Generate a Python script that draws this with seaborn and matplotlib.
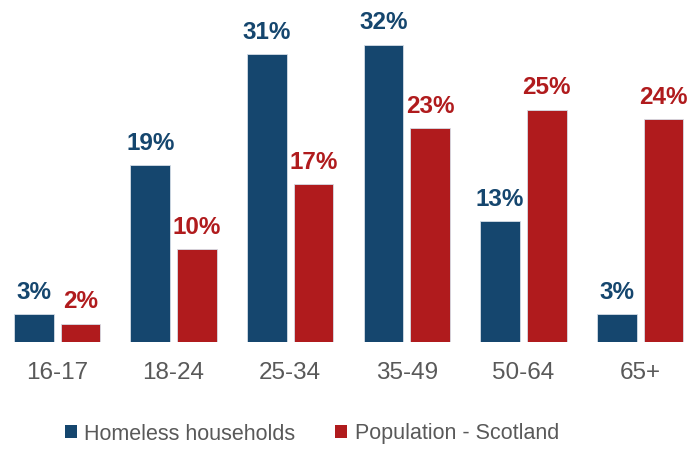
import matplotlib
matplotlib.use("Agg")
import matplotlib.pyplot as plt
from matplotlib.patches import Patch
import seaborn as sns
import pandas as pd

age_groups = ["16-17", "18-24", "25-34", "35-49", "50-64", "65+"]
homeless = [3, 19, 31, 32, 13, 3]
population = [2, 10, 17, 23, 25, 24]
series_names = ["Homeless households", "Population - Scotland"]
colors = ["#15466e", "#b01b1d"]

df = pd.DataFrame({
    "age": age_groups * 2,
    "share": homeless + population,
    "series": [series_names[0]] * len(age_groups) + [series_names[1]] * len(age_groups),
})

sns.set_style("white")
plt.rcParams["font.family"] = ["Liberation Sans", "DejaVu Sans"]

fig = plt.figure(figsize=(6.91, 4.49), dpi=100)
ax = fig.add_axes([0, 0.238, 1, 0.762])

sns.barplot(data=df, x="age", y="share", hue="series", order=age_groups,
            hue_order=series_names, palette=colors, saturation=1, width=0.8, gap=0.15,
            edgecolor="#d5dde6", linewidth=0.6, legend=False, ax=ax)

for container, col in zip(ax.containers, colors):
    ax.bar_label(container, labels=[f"{v:.0f}%" for v in container.datavalues],
                 padding=7.5, color=col, fontsize=17.5, fontweight="bold")

ax.set_xlim(-0.489, 5.437)
ax.set_ylim(0, 36.8)
ax.set_xlabel("")
ax.set_ylabel("")
ax.set_yticks([])
ax.tick_params(axis="x", length=0, pad=14, labelsize=17.5, labelcolor="#595959")
for s in ax.spines.values():
    s.set_visible(False)

handles = [Patch(facecolor=c, edgecolor="none") for c in colors]
fig.legend(handles, series_names, loc="center", bbox_to_anchor=(312 / 691, 1 - 434 / 449),
           ncol=2, frameon=False, fontsize=15.5, labelcolor="#595959",
           handlelength=0.55, handleheight=0.55, handletextpad=0.35, columnspacing=1.85)

fig.savefig("out.png", dpi=100)
